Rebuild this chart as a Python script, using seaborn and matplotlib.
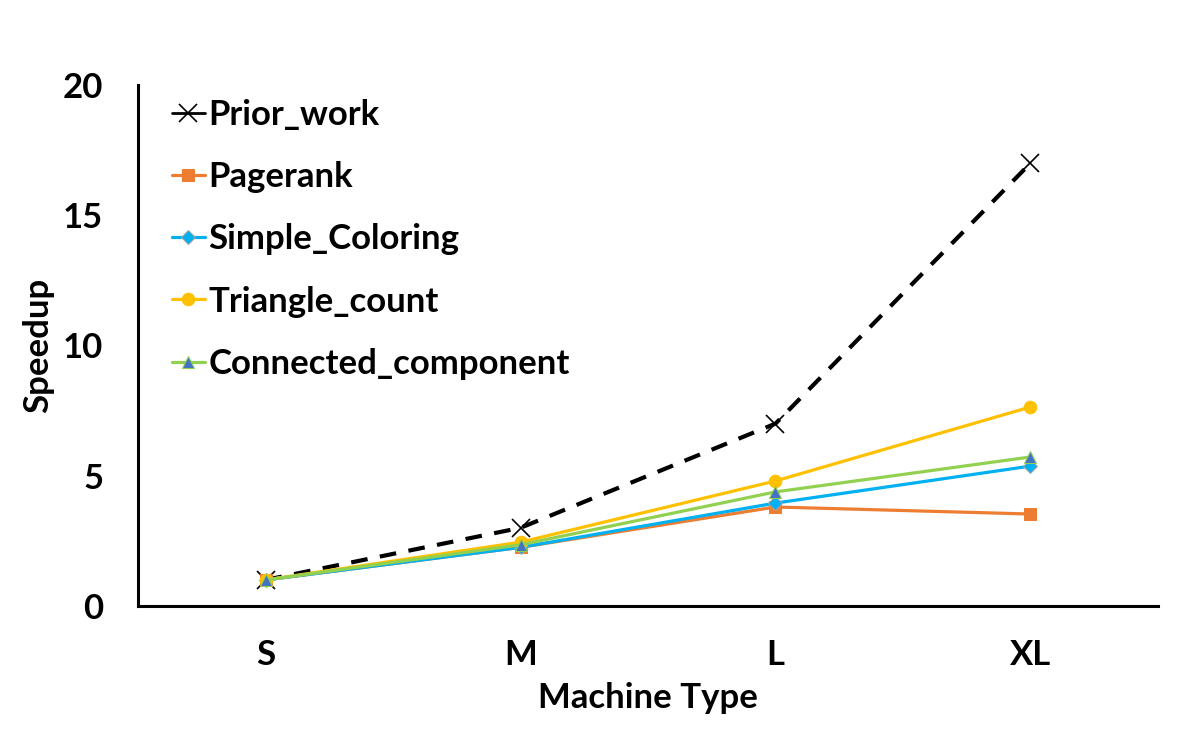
import pandas as pd
import matplotlib
matplotlib.use("Agg")
import matplotlib.pyplot as plt
import seaborn as sns

# data
machines = ['S', 'M', 'L', 'XL']
prior_work = [1.0, 3.0, 7.0, 17.0]
pagerank = [1.0, 2.25, 3.8, 3.53]
simple_coloring = [1.0, 2.25, 3.95, 5.37]
triangle_count = [1.0, 2.45, 4.8, 7.64]
connected_component = [1.0, 2.35, 4.38, 5.72]

series = {
    'Prior_work': prior_work,
    'Pagerank': pagerank,
    'Simple_Coloring': simple_coloring,
    'Triangle_count': triangle_count,
    'Connected_component': connected_component,
}

styles = {
    'Prior_work': dict(color='black', marker='x', linestyle=(0, (4, 3)), markersize=13,
                       markeredgewidth=1.2, markerfacecolor='black', markeredgecolor='black'),
    'Pagerank': dict(color='#ED7D31', marker='s', markersize=8,
                     markerfacecolor='#ED7D31', markeredgecolor='#ED7D31'),
    'Simple_Coloring': dict(color='#00B0F0', marker='D', markersize=7,
                            markerfacecolor='#00B0F0', markeredgecolor='#A5A5A5'),
    'Triangle_count': dict(color='#FFC000', marker='o', markersize=9,
                           markerfacecolor='#FFC000', markeredgecolor='#FFC000'),
    'Connected_component': dict(color='#92D050', marker='^', markersize=9,
                                markerfacecolor='#4472C4', markeredgecolor='#92D050'),
}

sns.set_style('white')
plt.rcParams['font.family'] = ['Lato', 'DejaVu Sans']
plt.rcParams['font.weight'] = 'bold'
plt.rcParams['text.color'] = 'black'
plt.rcParams['axes.labelcolor'] = 'black'
plt.rcParams['xtick.color'] = 'black'
plt.rcParams['ytick.color'] = 'black'

fig = plt.figure(figsize=(11.99, 7.44), dpi=100)
ax = fig.add_axes([0.1151, 0.1855, 0.8507, 0.7003])

for name, vals in series.items():
    df = pd.DataFrame({'Machine': range(len(machines)), 'Speedup': vals})
    st = styles[name]
    sns.lineplot(data=df, x='Machine', y='Speedup', ax=ax, label=name,
                 linewidth=3 if name == 'Prior_work' else 2.3, **st)

ax.set_xlim(-0.5, 3.5)
ax.set_ylim(0, 20)
ax.set_xticks(range(len(machines)))
ax.set_xticklabels(machines)
ax.set_yticks([0, 5, 10, 15, 20])

sns.despine(ax=ax)
for sp in ['left', 'bottom']:
    ax.spines[sp].set_linewidth(2.2)
    ax.spines[sp].set_color('black')
ax.tick_params(axis='x', direction='out', length=6, width=2, labelsize=25, pad=18)
ax.tick_params(axis='y', direction='out', length=7, width=2, labelsize=25, pad=18)
for lab in ax.get_xticklabels() + ax.get_yticklabels():
    lab.set_fontweight('bold')

ax.set_xlabel('Machine Type', fontsize=25, fontweight='bold', labelpad=8)
ax.set_ylabel('Speedup', fontsize=25, fontweight='bold', labelpad=6)

leg = ax.legend(loc='upper left', bbox_to_anchor=(172 / 1199, 1 - 99 / 744),
                bbox_transform=fig.transFigure, frameon=False, fontsize=25,
                handlelength=0.95, handletextpad=0.1, labelspacing=0.87,
                borderpad=0, borderaxespad=0)
for t in leg.get_texts():
    t.set_fontweight('bold')
# legend swatch for the dashed series is drawn solid, as in the original
leg.get_lines()[0].set_linestyle('-')
leg.get_lines()[0].set_linewidth(2)

fig.savefig('out.png', dpi=100)
